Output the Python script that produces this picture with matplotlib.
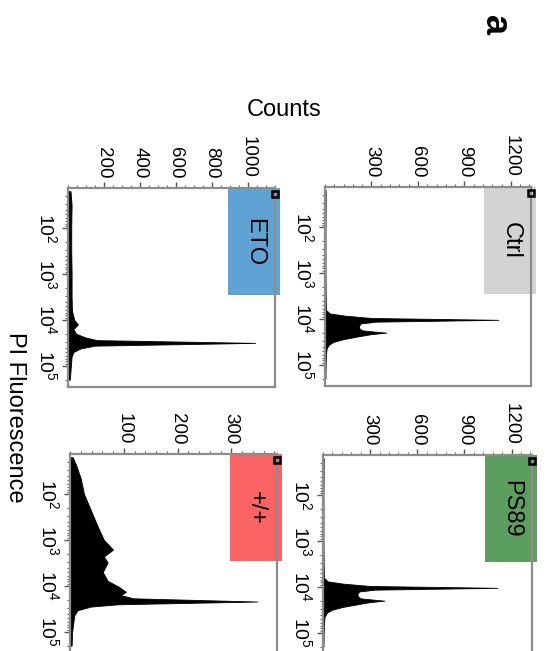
import numpy as np
import matplotlib
matplotlib.use("Agg")
import matplotlib.pyplot as plt
from matplotlib.patches import Rectangle
from matplotlib.ticker import AutoMinorLocator, LogLocator, NullFormatter

plt.rcParams["font.family"] = ["Liberation Sans", "DejaVu Sans"]
plt.rcParams["mathtext.default"] = "regular"

# -----------------------------------------------------------------------
# Data: PI histograms (log10 fluorescence, counts)
# -----------------------------------------------------------------------
ctrl_logfl = [1.2, 1.5, 2.0, 2.5, 3.0, 3.5, 3.8, 3.88, 3.93, 3.98, 4.02, 4.06, 4.10,
              4.15, 4.20, 4.25, 4.28, 4.30, 4.33, 4.38, 4.44, 4.50, 4.56, 4.65, 4.8, 5.0, 5.3]
ctrl_counts = [4, 4, 3, 3, 3, 4, 6, 30, 130, 300, 1120, 330, 230,
               220, 220, 240, 330, 395, 300, 215, 120, 55, 25, 10, 6, 4, 3]

ps89_logfl = ctrl_logfl
ps89_counts = [4, 4, 3, 3, 3, 4, 6, 30, 130, 300, 1110, 330, 230,
               220, 220, 240, 330, 390, 300, 215, 120, 55, 25, 10, 6, 4, 3]

eto_logfl = [1.2, 1.5, 2.0, 2.5, 3.0, 3.5, 3.8, 4.0, 4.1, 4.2, 4.3, 4.38, 4.44,
             4.50, 4.56, 4.62, 4.7, 4.8, 5.0, 5.3]
eto_counts = [14, 20, 18, 18, 20, 20, 22, 35, 55, 30, 45, 95, 160,
              1040, 150, 70, 30, 20, 16, 10]

wt_logfl = [1.2, 1.36, 1.66, 2.0, 2.36, 2.72, 3.0, 3.21, 3.36, 3.49, 3.70, 3.89,
            4.02, 4.13, 4.2, 4.27, 4.34, 4.40, 4.45, 4.53, 4.64, 5.0, 5.3]
wt_counts = [5, 11, 20, 26, 39, 52, 63, 80, 63, 70, 61, 70,
             91, 104, 94, 118, 348, 90, 39, 14, 8, 4, 3]

panel_names = ["Ctrl", "PS89", "ETO", "+/+"]
panel_colors = ["#d3d3d3", "#5c9e5f", "#5fa3d5", "#f96363"]
count_ticks = [[300, 600, 900, 1200], [300, 600, 900, 1200],
               [200, 400, 600, 800, 1000], [100, 200, 300]]
count_max = [1330, 1330, 1150, 385]
fl_ticks = [1e2, 1e3, 1e4, 1e5]

# -----------------------------------------------------------------------
# Figure (whole panel is shown turned 90 degrees clockwise)
# -----------------------------------------------------------------------
W, H = 548, 651
fig = plt.figure(figsize=(W / 100, H / 100), dpi=100)


def px_axes(x0, y0, x1, y1):
    return fig.add_axes([x0 / W, 1 - y1 / H, (x1 - x0) / W, (y1 - y0) / H])


axes = [
    px_axes(325, 187, 531, 386),   # Ctrl
    px_axes(323, 455, 532, 654),   # PS89
    px_axes(68, 188, 275, 387),    # ETO
    px_axes(70, 454, 277, 653),    # +/+
]
data = [(ctrl_logfl, ctrl_counts), (ps89_logfl, ps89_counts),
        (eto_logfl, eto_counts), (wt_logfl, wt_counts)]

for i, ax in enumerate(axes):
    logfl, counts = data[i]
    fl = 10 ** np.array(logfl)
    ax.fill_betweenx(fl, 0, counts, color="black", lw=0.6, zorder=1)

    ax.set_yscale("log")
    ax.set_ylim(10 ** 5.46, 10 ** 1.13)
    ax.set_xlim(0, count_max[i])

    # counts axis along the top
    ax.xaxis.tick_top()
    ax.set_xticks(count_ticks[i])
    ax.xaxis.set_minor_locator(AutoMinorLocator(5 if i != 2 else 4))
    ax.tick_params(axis="x", which="both", labelrotation=-90, labelsize=13.5, pad=3)
    for lab in ax.get_xticklabels():
        lab.set_va("bottom")

    # fluorescence axis on the left
    ax.set_yticks(fl_ticks)
    ax.set_yticklabels([r"$10^{%d}$" % k for k in (2, 3, 4, 5)])
    ax.yaxis.set_minor_locator(LogLocator(base=10, subs=np.arange(2, 10)))
    ax.yaxis.set_minor_formatter(NullFormatter())
    ax.tick_params(axis="y", which="both", labelrotation=-90, labelsize=14, pad=3)
    for lab in ax.get_yticklabels():
        lab.set_va("center")

    ax.tick_params(which="major", length=4, width=1.0, color="#555555")
    ax.tick_params(which="minor", length=2.5, width=0.8, color="#666666")
    for sp in ax.spines.values():
        sp.set_color("#8c8c8c")
        sp.set_linewidth(1.6)

    # coloured sample label box
    ax.add_patch(Rectangle((0.773, 0.46), 0.25, 0.54, transform=ax.transAxes,
                           facecolor=panel_colors[i], edgecolor="none",
                           clip_on=False, zorder=2))
    ax.text(0.9, 0.73, panel_names[i], transform=ax.transAxes, rotation=-90,
            ha="center", va="center", fontsize=17, zorder=3)
    ax.plot(1.0, 0.97, transform=ax.transAxes, marker="s", ms=5, mfc="none",
            mec="black", mew=1.8, clip_on=False, zorder=4)

fig.text(284 / W, 1 - 110 / H, "Counts", ha="center", va="center", fontsize=17)
fig.text(15 / W, 1 - 417 / H, "PI Fluorescence", rotation=-90,
         ha="center", va="center", fontsize=17)
fig.text(494 / W, 1 - 25 / H, "a", rotation=-90, ha="center", va="center",
         fontsize=26, fontweight="bold")

fig.savefig("out.png", dpi=100)
